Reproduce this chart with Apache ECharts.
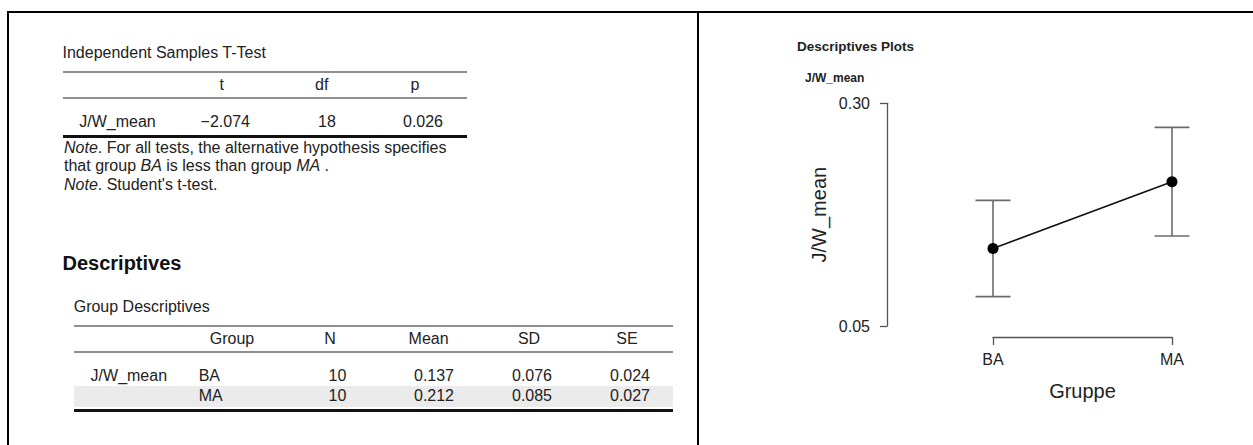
<!DOCTYPE html>
<html>
<head>
<meta charset="utf-8">
<title>Independent Samples T-Test</title>
<script src="https://cdn.jsdelivr.net/npm/echarts@6/dist/echarts.min.js"></script>
<style>
  html, body { margin: 0; padding: 0; background: #fff; }
  body { width: 1253px; height: 445px; position: relative; overflow: hidden;
         font-family: "Liberation Sans", Arial, sans-serif; color: #222; }
  #chart { position: absolute; left: 0; top: 0; width: 1253px; height: 445px; z-index: 0; }
  #tables { position: absolute; left: 0; top: 0; width: 1253px; height: 445px; z-index: 1; }
  .t { position: absolute; white-space: nowrap; font-size: 16px; line-height: 18px; height: 18px; }
  .c { transform: translateX(-50%); }
  .rule { position: absolute; }
</style>
</head>
<body>
<div id="chart"></div>
<div id="tables"></div>
<script>
// values
var groups = ['BA', 'MA'];
var groupN = [10, 10];
var groupMean = [0.137, 0.212];
var groupSD = [0.076, 0.085];
var groupSE = [0.024, 0.027];
var ciLower = [0.083, 0.151];   // 95% CI of the mean
var ciUpper = [0.191, 0.273];
var yTicks = [0.05, 0.30];

var depVar = 'J/W_mean';
var ttestHead = ['t', 'df', 'p'];
var tValue = -2.074;
var dfValue = 18;
var pValue = 0.026;
var descHead = ['Group', 'N', 'Mean', 'SD', 'SE'];

var box = document.getElementById('tables');

function rule(x, y, w, h, color) {
    var d = document.createElement('div');
    d.className = 'rule';
    d.style.left = x + 'px';
    d.style.top = y + 'px';
    d.style.width = w + 'px';
    d.style.height = h + 'px';
    d.style.background = color;
    box.appendChild(d);
}

// x = left edge, or centre when centred; yc = vertical centre
function txt(x, yc, html, centred, extra) {
    var s = document.createElement('div');
    s.className = 't' + (centred ? ' c' : '');
    s.style.left = x + 'px';
    s.style.top = (yc - 9) + 'px';
    s.innerHTML = html;
    if (extra) {
        for (var k in extra) { s.style[k] = extra[k]; }
    }
    box.appendChild(s);
}

function fmt(v) {
    return v < 0 ? '\u2212' + Math.abs(v).toFixed(3) : v.toFixed(3);
}

// page frame
rule(7, 11, 1246, 2, '#000');
rule(7, 11, 2, 434, '#000');
rule(697, 11, 2, 434, '#000');

// Independent Samples T-Test
txt(62.5, 53, 'Independent Samples T-Test');
rule(63, 71, 404, 2, '#8f8f8f');
var tHeadX = [221.7, 321.7, 415];
for (var i = 0; i < ttestHead.length; i++) {
    txt(tHeadX[i], 85, ttestHead[i], true);
}
rule(63, 97, 404, 2, '#8f8f8f');
txt(79.3, 122.3, depVar);
var tRow = [fmt(tValue), String(dfValue), pValue.toFixed(3)];
var tRowX = [225.3, 327, 423];
for (var i = 0; i < tRow.length; i++) {
    txt(tRowX[i], 122.3, tRow[i], true);
}
rule(63, 134.5, 404, 3, '#111');
txt(64, 148, '<i>Note</i>. For all tests, the alternative hypothesis specifies');
txt(64, 166, 'that group <i>' + groups[0] + '</i> is less than group <i>' + groups[1] + '</i> .');
txt(64, 185, '<i>Note</i>. Student\'s t-test.');

// Descriptives
txt(62.5, 263.3, 'Descriptives', false, { fontSize: '20px', fontWeight: 'bold', color: '#111', lineHeight: '22px', height: '22px', top: '252.3px' });
txt(73.7, 307.3, 'Group Descriptives');
rule(74, 325, 599, 2, '#8f8f8f');
var dHeadX = [232, 330, 428.6, 529, 627];
for (var i = 0; i < descHead.length; i++) {
    txt(dHeadX[i], 339.3, descHead[i], true);
}
rule(74, 351, 599, 2, '#8f8f8f');
var rowY = [375.7, 395.7];
rule(74, 386, 599, 21, '#ebebeb');
var numX = [337.5, 434, 532, 630];
for (var r = 0; r < groups.length; r++) {
    if (r === 0) { txt(90.6, rowY[r], depVar); }
    txt(198.7, rowY[r], groups[r]);
    var cells = [String(groupN[r]), groupMean[r].toFixed(3), groupSD[r].toFixed(3), groupSE[r].toFixed(3)];
    for (var k = 0; k < cells.length; k++) {
        txt(numX[k], rowY[r], cells[k], true);
    }
}
rule(74, 408.5, 599, 3, '#111');

// descriptives plot
var chart = echarts.init(document.getElementById('chart'), null, { renderer: 'svg' });

var barData = [];
for (var i = 0; i < groups.length; i++) {
    barData.push([i, ciLower[i], ciUpper[i]]);
}

function renderErrorBar(params, api) {
    var x = api.value(0);
    var hi = api.coord([x, api.value(2)]);
    var lo = api.coord([x, api.value(1)]);
    var half = 17.5;
    var style = { stroke: '#6b6b6b', lineWidth: 1.6 };
    return {
        type: 'group',
        children: [
            { type: 'line', shape: { x1: hi[0], y1: hi[1], x2: lo[0], y2: lo[1] }, style: style },
            { type: 'line', shape: { x1: hi[0] - half, y1: hi[1], x2: hi[0] + half, y2: hi[1] }, style: style },
            { type: 'line', shape: { x1: lo[0] - half, y1: lo[1], x2: lo[0] + half, y2: lo[1] }, style: style }
        ]
    };
}

chart.setOption({
    backgroundColor: 'transparent',
    animation: false,
    textStyle: { fontFamily: '"Liberation Sans", Arial, sans-serif' },
    title: [{
        text: 'Descriptives Plots',
        left: 797,
        top: 39,
        padding: 0,
        textStyle: { fontSize: 13.5, fontWeight: 'bold', color: '#222' }
    }, {
        text: depVar,
        left: 805,
        top: 71.5,
        padding: 0,
        textStyle: { fontSize: 12, fontWeight: 'bold', color: '#222' }
    }],
    grid: { left: 993, top: 103.3, width: 179, height: 222.7 },
    xAxis: {
        type: 'category',
        data: groups,
        boundaryGap: false,
        offset: 11,
        axisLine: { lineStyle: { color: '#555', width: 1.3 } },
        axisTick: { length: 8, lineStyle: { color: '#555', width: 1.3 } },
        axisLabel: { fontSize: 16, color: '#222', margin: 14 },
        splitLine: { show: false },
        name: 'Gruppe',
        nameLocation: 'middle',
        nameGap: 44,
        nameTextStyle: { fontSize: 20, color: '#222' }
    },
    yAxis: {
        type: 'value',
        min: yTicks[0],
        max: yTicks[1],
        offset: 106,
        axisLine: { show: true, lineStyle: { color: '#555', width: 1.3 } },
        axisTick: { show: true, length: 7, customValues: yTicks, lineStyle: { color: '#555', width: 1.3 } },
        axisLabel: {
            fontSize: 16,
            color: '#222',
            margin: 17,
            customValues: yTicks,
            formatter: function (v) { return v.toFixed(2); }
        },
        splitLine: { show: false },
        name: depVar,
        nameLocation: 'middle',
        nameGap: 58,
        nameTextStyle: { fontSize: 20, color: '#222' }
    },
    series: [{
        type: 'custom',
        renderItem: renderErrorBar,
        data: barData,
        encode: { x: 0, y: [1, 2] },
        clip: false,
        z: 1
    }, {
        type: 'line',
        data: groupMean,
        symbol: 'circle',
        symbolSize: 11,
        clip: false,
        lineStyle: { color: '#111', width: 1.6 },
        itemStyle: { color: '#000' },
        z: 2
    }]
});
</script>
</body>
</html>
